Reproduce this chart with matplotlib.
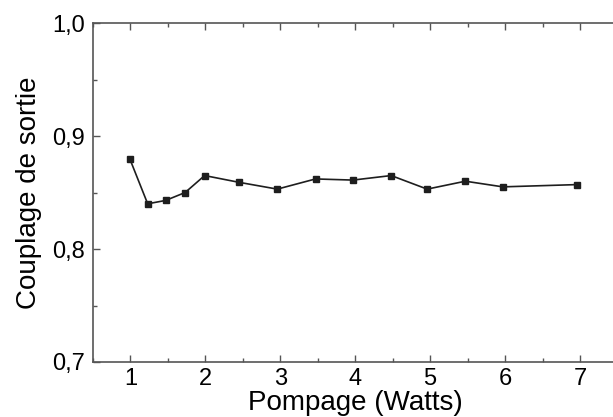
import matplotlib
matplotlib.use('Agg')
import matplotlib.pyplot as plt
from matplotlib.ticker import MultipleLocator, FuncFormatter

# data
pompage = [0.99, 1.23, 1.47, 1.73, 1.99, 2.45, 2.96, 3.47, 3.97, 4.48, 4.96, 5.47, 5.97, 6.96]
couplage = [0.880, 0.840, 0.843, 0.850, 0.865, 0.859, 0.853, 0.862, 0.861, 0.865, 0.853, 0.860, 0.855, 0.857]

plt.rcParams['font.family'] = ['Liberation Sans', 'DejaVu Sans']

fig = plt.figure(figsize=(6.13, 4.17), dpi=100)
ax = fig.add_axes([0.1517, 0.1319, 0.8556, 0.8129])

ax.plot(pompage, couplage, color='#1e1e1e', linewidth=1.2,
        marker='s', markersize=5, markerfacecolor='#1e1e1e', markeredgecolor='#1e1e1e')

ax.set_xlim(0.5, 7.5)
ax.set_ylim(0.7, 1.0)

ax.xaxis.set_major_locator(MultipleLocator(1))
ax.xaxis.set_minor_locator(MultipleLocator(0.5))
ax.yaxis.set_major_locator(MultipleLocator(0.1))
ax.yaxis.set_minor_locator(MultipleLocator(0.05))

# decimal comma
ax.yaxis.set_major_formatter(FuncFormatter(lambda v, p: ('%.1f' % v).replace('.', ',')))

ax.tick_params(which='both', direction='in', top=True, right=False, colors='#555555',
               labelcolor='black')
ax.tick_params(which='major', length=5, width=1, labelsize=17)
ax.tick_params(axis='y', which='major', pad=6)
ax.tick_params(axis='x', which='major', pad=4)
ax.tick_params(which='minor', length=3, width=1)

for s in ax.spines.values():
    s.set_color('#555555')
    s.set_linewidth(1.2)

ax.set_xlabel('Pompage (Watts)', fontsize=20, labelpad=0)
ax.set_ylabel('Couplage de sortie', fontsize=20, labelpad=7)

fig.savefig('out.png', dpi=100)
